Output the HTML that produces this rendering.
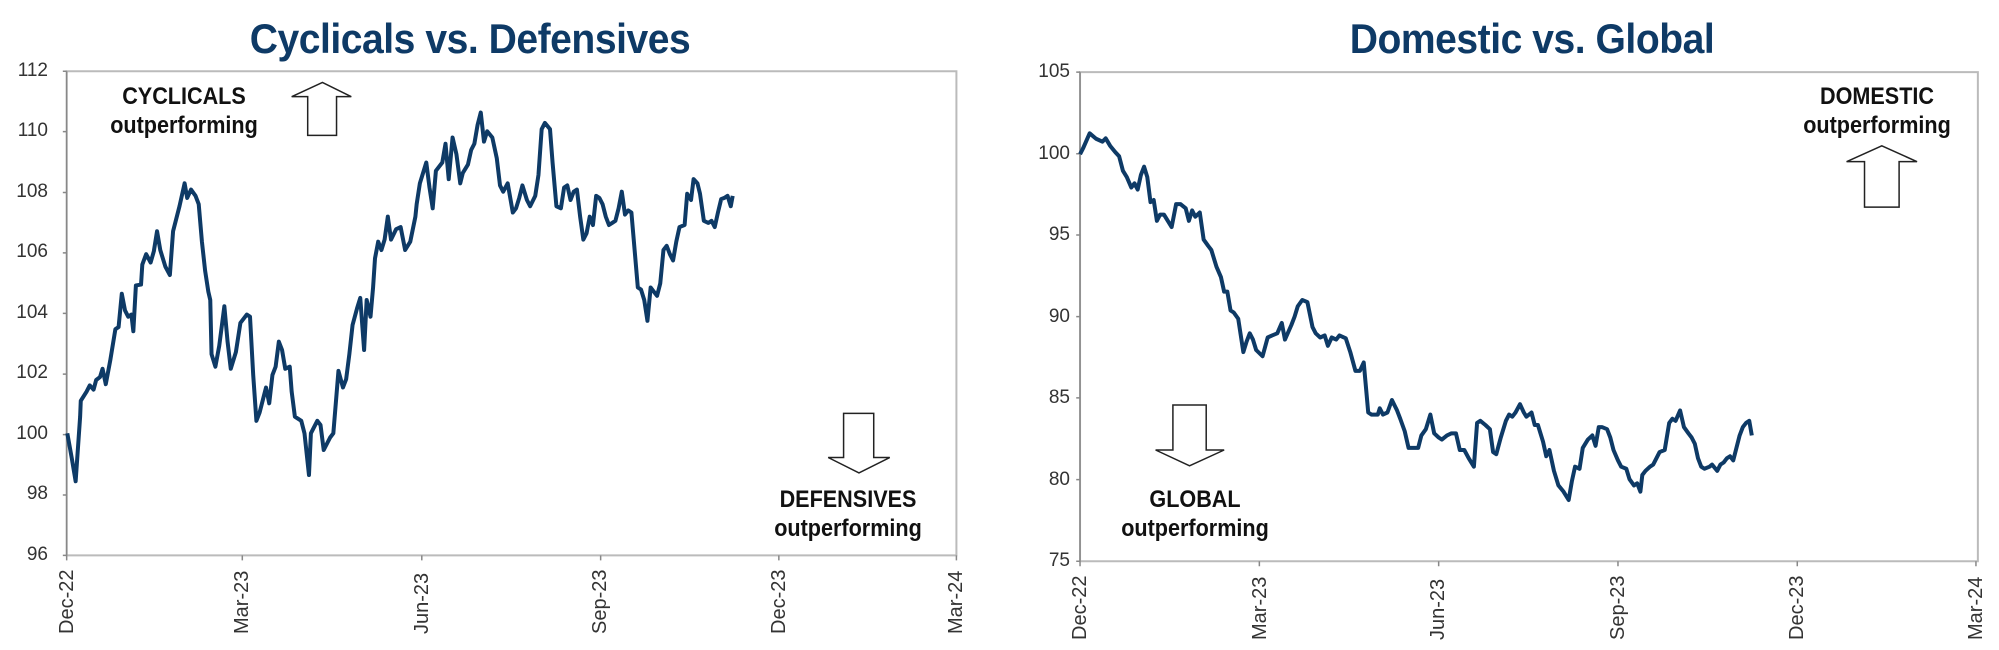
<!DOCTYPE html>
<html><head><meta charset="utf-8"><style>
body{margin:0;background:#fff;width:1999px;height:650px;overflow:hidden;position:relative;font-family:"Liberation Sans Narrow","Liberation Sans",sans-serif}
svg{position:absolute;top:0}
.t{position:absolute;color:#0e3a66;font-weight:bold;font-size:42px;transform:translateX(-50%) scaleX(0.93);white-space:nowrap;top:15px;letter-spacing:-0.5px}
.y{position:absolute;font-size:19px;color:#333;text-align:right;width:40px}
.x{position:absolute;font-size:20px;color:#333;transform-origin:0 0;transform:rotate(-90deg);white-space:nowrap}
.a{position:absolute;font-weight:bold;font-size:24px;color:#111;text-align:center;transform:translateX(-50%) scaleX(0.9);line-height:29px;white-space:nowrap}
</style></head><body>
<svg width="1000" height="650" viewBox="0 0 1560 1560" preserveAspectRatio="none" style="left:0">
<rect x="104" y="171" width="1388" height="1162" fill="none" stroke="#bbb" stroke-width="2" vector-effect="non-scaling-stroke"/>
<g stroke="#888" vector-effect="non-scaling-stroke"><path d="M104 171V1345M104 1333H98M104 1188H98M104 1043H98M104 898H98M104 752H98M104 607H98M104 462H98M104 316H98M104 171H98M378 1333V1345M658 1333V1345M937 1333V1345M1215 1333V1345M1492 1333V1345" vector-effect="non-scaling-stroke" stroke-width="1.5"/></g>
<path d="M455 232L503 198L548 232L525 232L525 325L480 325L480 232Z" fill="#fff" stroke="#222" stroke-width="1.5" vector-effect="non-scaling-stroke"/>
<path d="M1316 992L1363 992L1363 1098L1388 1098L1340 1135L1292 1098L1316 1098Z" fill="#fff" stroke="#222" stroke-width="1.5" vector-effect="non-scaling-stroke"/>
<polyline fill="none" stroke="#0e3a66" stroke-width="4" stroke-linejoin="round" vector-effect="non-scaling-stroke" points="105,1040 112,1100 118,1155 125,1000 126,962 135,940 140,925 146,935 150,912 156,905 160,885 165,922 172,865 180,790 185,785 190,705 195,745 200,760 205,755 208,795 212,685 220,683 222,635 228,610 235,630 240,603 245,555 250,600 258,640 265,660 270,555 280,495 288,440 292,475 298,455 305,470 310,490 315,580 320,650 325,700 328,720 330,850 336,880 342,830 350,735 355,820 360,885 368,845 375,775 385,755 390,760 395,900 400,1010 405,990 410,960 415,930 420,968 425,900 430,880 435,820 440,840 445,885 452,880 455,940 460,1000 470,1010 475,1040 482,1140 485,1040 495,1010 500,1020 505,1080 515,1050 520,1040 528,890 535,930 540,910 545,850 550,780 557,740 562,715 568,840 572,720 578,760 582,690 585,620 590,580 595,600 600,575 605,520 610,575 618,550 625,545 632,600 640,580 648,520 650,490 655,440 665,390 670,450 675,500 680,410 690,390 695,345 700,430 706,330 712,370 718,440 722,415 730,395 735,360 740,345 745,300 750,270 755,340 760,315 768,330 775,380 780,445 785,460 792,440 800,510 805,500 810,475 815,445 822,480 827,495 835,470 840,420 845,310 850,295 858,310 862,390 868,495 875,500 880,450 885,445 890,480 895,460 900,455 905,520 910,575 915,560 920,520 925,540 930,470 935,475 940,490 945,520 950,540 955,535 960,530 965,500 970,460 975,515 980,505 985,510 990,600 995,690 1000,695 1005,720 1010,770 1015,690 1020,700 1025,710 1030,680 1035,600 1040,590 1045,610 1050,625 1055,580 1060,545 1068,540 1072,465 1078,480 1082,430 1088,440 1092,465 1098,530 1105,535 1110,530 1115,545 1120,510 1125,478 1130,475 1135,470 1140,495 1143,470"/>
</svg>
<svg width="999" height="650" viewBox="0 0 1560 1560" preserveAspectRatio="none" style="left:1000px">
<rect x="125" y="173" width="1402" height="1174" fill="none" stroke="#bbb" stroke-width="2" vector-effect="non-scaling-stroke"/>
<path d="M125 173V1359M125 1347H119M125 1151H119M125 955H119M125 760H119M125 564H119M125 369H119M125 173H119M405 1347V1359M685 1347V1359M965 1347V1359M1245 1347V1359M1524 1347V1359" stroke="#888" stroke-width="1.5" vector-effect="non-scaling-stroke"/>
<path d="M1322 388L1377 350L1432 388L1404 388L1404 497L1350 497L1350 388Z" fill="#fff" stroke="#222" stroke-width="1.5" vector-effect="non-scaling-stroke"/>
<path d="M270 972L322 972L322 1080L350 1080L296 1118L243 1080L270 1080Z" fill="#fff" stroke="#222" stroke-width="1.5" vector-effect="non-scaling-stroke"/>
<polyline fill="none" stroke="#0e3a66" stroke-width="4" stroke-linejoin="round" vector-effect="non-scaling-stroke" points="125,370 130,355 140,320 150,333 160,340 165,332 172,350 180,365 186,375 192,410 198,425 205,450 210,440 215,455 220,420 225,400 230,425 235,485 240,480 245,530 250,515 256,515 262,530 268,545 275,490 282,490 290,500 295,530 300,505 305,520 312,510 318,575 325,590 330,600 338,640 345,665 350,700 355,700 360,745 365,750 372,765 380,845 385,820 390,800 395,815 400,840 410,855 418,810 425,805 433,800 440,775 445,815 455,780 460,760 465,735 472,720 480,725 488,785 493,800 500,810 507,805 512,830 518,810 525,815 530,805 540,812 547,845 555,890 562,890 568,870 575,990 580,995 590,995 593,980 598,995 605,990 612,960 620,985 625,1005 632,1035 638,1075 645,1075 653,1075 658,1045 665,1030 672,995 678,1040 685,1050 690,1055 698,1045 705,1040 712,1040 718,1080 725,1080 732,1100 740,1120 745,1015 750,1010 758,1020 765,1030 770,1085 775,1090 782,1050 790,1010 795,995 800,1000 805,990 812,970 818,990 822,1000 830,990 835,1020 840,1020 848,1060 853,1095 858,1080 865,1130 872,1165 880,1180 888,1200 893,1155 898,1120 905,1125 910,1075 918,1055 925,1045 930,1070 935,1025 940,1025 948,1030 953,1050 958,1080 965,1105 970,1120 978,1125 983,1150 990,1165 995,1160 1000,1180 1003,1140 1008,1130 1015,1120 1020,1115 1025,1100 1030,1085 1038,1080 1045,1015 1050,1005 1055,1010 1062,985 1068,1025 1075,1040 1080,1050 1085,1065 1090,1100 1095,1120 1100,1125 1108,1120 1112,1115 1120,1130 1125,1115 1130,1110 1135,1100 1140,1095 1145,1105 1150,1075 1155,1045 1160,1025 1165,1015 1170,1010 1174,1045"/>
</svg>
<div class="t" style="left:470px">Cyclicals vs. Defensives</div>
<div class="t" style="left:1532px">Domestic vs. Global</div>
<div class="y" style="left:8px;top:60px">112</div><div class="y" style="left:8px;top:120px">110</div><div class="y" style="left:8px;top:181px">108</div><div class="y" style="left:8px;top:241px">106</div><div class="y" style="left:8px;top:302px">104</div><div class="y" style="left:8px;top:362px">102</div><div class="y" style="left:8px;top:423px">100</div><div class="y" style="left:8px;top:483px">98</div><div class="y" style="left:8px;top:544px">96</div>
<div class="y" style="left:1030px;top:61px">105</div><div class="y" style="left:1030px;top:143px">100</div><div class="y" style="left:1030px;top:224px">95</div><div class="y" style="left:1030px;top:306px">90</div><div class="y" style="left:1030px;top:387px">85</div><div class="y" style="left:1030px;top:469px">80</div><div class="y" style="left:1030px;top:550px">75</div>
<div class="x" style="left:56px;top:634px">Dec-22</div><div class="x" style="left:231px;top:634px">Mar-23</div><div class="x" style="left:411px;top:634px">Jun-23</div><div class="x" style="left:589px;top:634px">Sep-23</div><div class="x" style="left:768px;top:634px">Dec-23</div><div class="x" style="left:945px;top:634px">Mar-24</div>
<div class="x" style="left:1069px;top:640px">Dec-22</div><div class="x" style="left:1249px;top:640px">Mar-23</div><div class="x" style="left:1427px;top:640px">Jun-23</div><div class="x" style="left:1607px;top:640px">Sep-23</div><div class="x" style="left:1786px;top:640px">Dec-23</div><div class="x" style="left:1965px;top:640px">Mar-24</div>
<div class="a" style="left:184px;top:82px">CYCLICALS<br>outperforming</div>
<div class="a" style="left:848px;top:485px">DEFENSIVES<br>outperforming</div>
<div class="a" style="left:1877px;top:82px">DOMESTIC<br>outperforming</div>
<div class="a" style="left:1195px;top:485px">GLOBAL<br>outperforming</div>
</body></html>
